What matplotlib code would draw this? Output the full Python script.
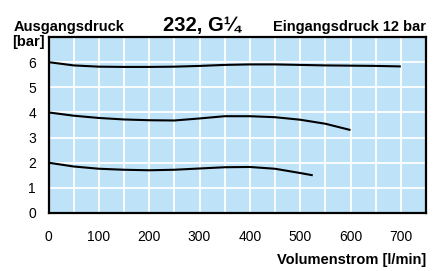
import matplotlib
matplotlib.use("Agg")
import matplotlib.pyplot as plt

plt.rcParams['font.family'] = ['Liberation Sans', 'DejaVu Sans']

# Data
flow_6 = [0, 50, 100, 150, 200, 250, 300, 350, 400, 450, 500, 550, 600, 650, 700]
pres_6 = [6.0, 5.87, 5.82, 5.81, 5.81, 5.82, 5.85, 5.89, 5.91, 5.91, 5.89, 5.87, 5.86, 5.85, 5.83]

flow_4 = [0, 50, 100, 150, 200, 250, 300, 350, 400, 450, 500, 550, 600]
pres_4 = [4.0, 3.87, 3.78, 3.72, 3.69, 3.68, 3.76, 3.85, 3.85, 3.81, 3.71, 3.55, 3.3]

flow_2 = [0, 50, 100, 150, 200, 250, 300, 350, 400, 450, 500, 525]
pres_2 = [2.0, 1.85, 1.76, 1.72, 1.70, 1.72, 1.77, 1.82, 1.83, 1.76, 1.59, 1.5]

x_ticks = [0, 100, 200, 300, 400, 500, 600, 700]
y_ticks = [0, 1, 2, 3, 4, 5, 6]

fig = plt.figure(figsize=(4.38, 2.71), dpi=100)
ax = fig.add_axes([48.5/438, 1 - 213/271, (426-48.5)/438, (213-37)/271])
ax.set_facecolor('#bee3f8')
ax.set_xlim(0, 750)
ax.set_ylim(0, 7)

for v in range(50, 750, 50):
    ax.axvline(v, color='white', lw=1.3, zorder=1)
for v in range(1, 7):
    ax.axhline(v, color='white', lw=1.3, zorder=1)

for fx, py in [(flow_6, pres_6), (flow_4, pres_4), (flow_2, pres_2)]:
    ax.plot(fx, py, color='black', lw=1.5, zorder=3, solid_capstyle='butt')

ax.set_xticks(x_ticks)
ax.set_yticks(y_ticks)
ax.tick_params(length=0, labelsize=10, colors='black')
ax.tick_params(axis='x', pad=12)
ax.tick_params(axis='y', pad=9)
for s in ax.spines.values():
    s.set_linewidth(1.6)
    s.set_color('black')

fig.text(14/438, 1 - 31/271, 'Ausgangsdruck', fontsize=10.5, fontweight='bold', ha='left', va='baseline')
fig.text(12.5/438, 1 - 46/271, '[bar]', fontsize=10.5, fontweight='bold', ha='left', va='baseline')
fig.text(201.5/438, 1 - 31/271, '232, G¼', fontsize=14.5, fontweight='bold', ha='center', va='baseline',
         family=['Liberation Sans', 'DejaVu Sans'])
fig.text(426/438, 1 - 31/271, 'Eingangsdruck 12 bar', fontsize=10.5, fontweight='bold', ha='right', va='baseline')
fig.text(426/438, 1 - 264/271, 'Volumenstrom [l/min]', fontsize=10.5, fontweight='bold', ha='right', va='baseline')

fig.savefig('out.png', dpi=100)
